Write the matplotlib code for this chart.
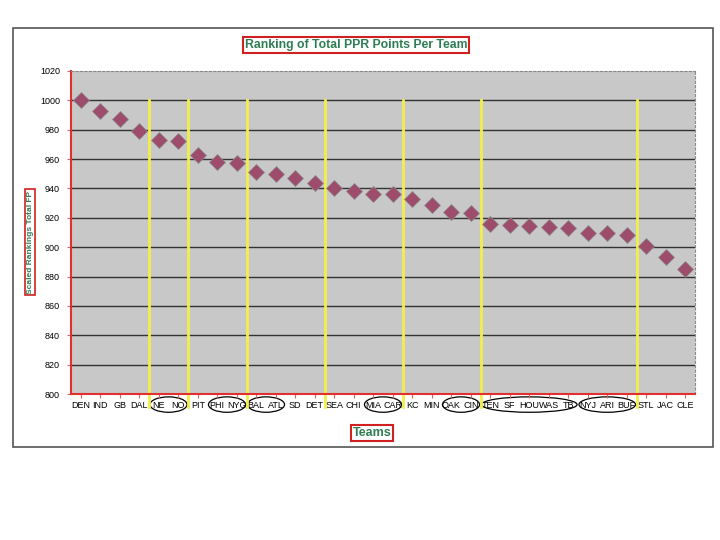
import matplotlib
matplotlib.use('Agg')
import matplotlib.pyplot as plt
from matplotlib.patches import Ellipse, Rectangle

teams = ['DEN', 'IND', 'GB', 'DAL', 'NE', 'NO', 'PIT', 'PHI', 'NYG', 'BAL', 'ATL',
         'SD', 'DET', 'SEA', 'CHI', 'MIA', 'CAR', 'KC', 'MIN', 'OAK', 'CIN', 'TEN',
         'SF', 'HOU', 'WAS', 'TB', 'NYJ', 'ARI', 'BUF', 'STL', 'JAC', 'CLE']
scores = [1000, 993, 987, 979, 973, 972, 963, 958, 957, 951, 950,
          947, 944, 940, 938, 936, 936, 933, 929, 924, 923, 916,
          915, 914.5, 914, 913, 910, 910, 908, 901, 893, 885]
# tier breaks (between categories) and circled groups (first, last)
breaks = [3.5, 5.5, 8.5, 12.5, 16.5, 20.5, 28.5]
groups = [(4, 5), (7, 8), (9, 10), (15, 16), (19, 20), (21, 25), (26, 28)]

plt.rcParams['font.family'] = ['Liberation Sans', 'DejaVu Sans']
green = '#2E7D52'

fig = plt.figure(figsize=(7.2, 5.4), dpi=100)
fig.patches.append(Rectangle((13/720, 1 - 447/540), 700/720, 419/540,
                             transform=fig.transFigure, fill=False,
                             ec='#555555', lw=1.2))
ax = fig.add_axes([71/720, 1 - 394/540, 624/720, 323/540])
ax.set_facecolor('#C8C8C8')

x = list(range(len(teams)))
ax.set_xlim(-0.5, len(teams) - 0.5)
ax.set_ylim(800, 1020)
ax.set_yticks(range(800, 1021, 20))
ax.set_xticks(x)
ax.set_xticklabels(teams)
ax.tick_params(axis='x', length=3, color='#E06060', labelsize=6.5, pad=2)
ax.tick_params(axis='y', length=3, color='#E06060', labelsize=6.5, pad=5)

for v in range(820, 1001, 20):
    ax.axhline(v, color='#333333', lw=1.0, zorder=1)

for b in breaks:
    ax.plot([b, b], [1000, 791], color='#F2EE4A', lw=2, zorder=2, clip_on=False)

ax.plot(x, scores, 'D', ms=8, color='#9E4C6C', mec='#8A8A8A', mew=0.5, zorder=3)

for a, b in groups:
    ax.add_patch(Ellipse(((a + b) / 2, 792.8), b - a + 0.9, 10.5,
                         fill=False, ec='black', lw=0.9, clip_on=False))

for s in ['top', 'right']:
    ax.spines[s].set_color('#888888')
    ax.spines[s].set_linestyle((0, (2, 2)))
    ax.spines[s].set_linewidth(0.8)
for s in ['left', 'bottom']:
    ax.spines[s].set_color('#E03030')
    ax.spines[s].set_linewidth(1.5)

box = dict(boxstyle='square,pad=0.15', fc='white', ec='#D02020', lw=1.5)
fig.text(356/720, 1 - 45/540, 'Ranking of Total PPR Points Per Team', ha='center',
         va='center', color=green, fontsize=8.8, fontweight='bold', bbox=box)
fig.text(372/720, 1 - 433/540, 'Teams', ha='center', va='center', color=green,
         fontsize=9, fontweight='bold', bbox=box)
fig.text(30/720, 1 - 242/540, 'Scaled Rankings Total FP', ha='center', va='center',
         rotation=90, color=green, fontsize=6, fontweight='bold',
         bbox=dict(boxstyle='square,pad=0.15', fc='white', ec='#D02020', lw=1.2))

fig.savefig('out.png', dpi=100)
